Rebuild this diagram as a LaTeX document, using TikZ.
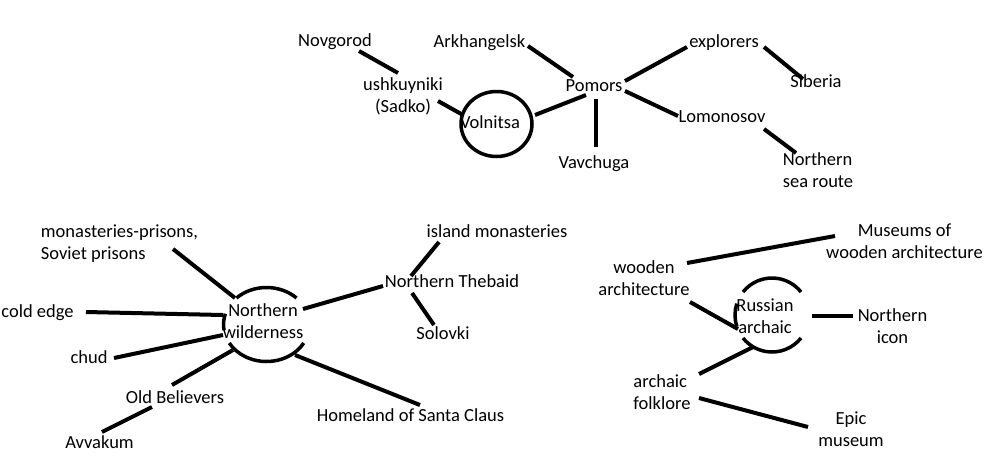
\documentclass[tikz,border=0pt]{standalone}
\usepackage{fontspec}
\setmainfont{Carlito}
\newcommand\lstrut{\rule[-5.2pt]{0pt}{22pt}}
\begin{document}
\begin{tikzpicture}[x=1pt,y=-1pt,
  lbl/.style={inner sep=0pt, font=\fontsize{18.5}{22}\selectfont, align=center},
  lbll/.style={lbl, align=left},
  conn/.style={line width=4pt},
  ring/.style={line width=3.5pt}]
\useasboundingbox[fill=white] (0,0) rectangle (1003,456);

% ---------- top cluster ----------
\node[lbl] (novgorod) at (335,41) {\lstrut Novgorod};
\node[lbl] (arkh) at (479.5,42) {\lstrut Arkhangelsk};
\node[lbl] (ushk) at (403,96) {\lstrut ushkuyniki\\\lstrut (Sadko)};
\draw[ring] (496.5,124) ellipse [x radius=35.5, y radius=32.5];
\node[lbl] (voln) at (490,123) {\lstrut Volnitsa};
\node[lbl] (pomors) at (594,86) {\lstrut Pomors};
\node[lbl] (vavch) at (594,163) {\lstrut Vavchuga};
\node[lbl] (expl) at (724,42) {\lstrut explorers};
\node[lbl] (siberia) at (816,82) {\lstrut Siberia};
\node[lbl] (lomon) at (722,117) {\lstrut Lomonosov};
\node[lbll] (nsr) at (818,171) {\lstrut Northern\\\lstrut sea route};

\draw[conn] ([shift={(24,10)}]novgorod.center) -- ([shift={(-5,-23)}]ushk.center);
\draw[conn] ([shift={(35,5)}]ushk.center) -- ([shift={(-27,-8)}]voln.center);
\draw[conn] ([shift={(48.5,4)}]arkh.center) -- ([shift={(-21,-9)}]pomors.center);
\draw[conn] ([shift={(45,-8)}]voln.center) -- ([shift={(-8,9)}]pomors.center);
\draw[conn] ([shift={(2,13)}]pomors.center) -- ([shift={(2,-16)}]vavch.center);
\draw[conn] ([shift={(31,-5)}]pomors.center) -- ([shift={(-37,5)}]expl.center);
\draw[conn] ([shift={(31,5)}]pomors.center) -- ([shift={(-44,-1)}]lomon.center);
\draw[conn] ([shift={(40,5)}]expl.center) -- ([shift={(-13,-3)}]siberia.center);
\draw[conn] ([shift={(42,12)}]lomon.center) -- ([shift={(-22,-18)}]nsr.center);

% ---------- bottom-left cluster ----------
\coordinate (nwc) at (266.5,324.5);
\draw[ring] ([shift={(-134.3:43 and 37)}]nwc) arc[start angle=-134.3, end angle=-45.7, x radius=43, y radius=37];
\draw[ring] ([shift={(30:43 and 37)}]nwc) arc[start angle=30, end angle=150, x radius=43, y radius=37];
\draw[ring] ([shift={(171:43 and 37)}]nwc) arc[start angle=171, end angle=197, x radius=43, y radius=37];
\node[lbl] (nwild) at (263,322) {\lstrut Northern\\\lstrut wilderness};
\node[lbll] (monpr) at (119.5,243) {\lstrut monasteries-prisons,\\\lstrut Soviet prisons};
\node[lbl] (cold) at (37.5,312) {\lstrut cold edge};
\node[lbl] (chud) at (89,358) {\lstrut chud};
\node[lbl] (oldb) at (175,398) {\lstrut Old Believers};
\node[lbl] (avv) at (99.5,443) {\lstrut Avvakum};
\node[lbl] (thebaid) at (452,282) {\lstrut Northern Thebaid};
\node[lbl] (island) at (497,232) {\lstrut island monasteries};
\node[lbl] (solovki) at (443,334) {\lstrut Solovki};
\node[lbl] (santa) at (410.5,416) {\lstrut Homeland of Santa Claus};

\draw[conn] ([shift={(53.5,6)}]monpr.center) -- ([shift={(-28,-24)}]nwild.center);
\draw[conn] ([shift={(48.5,0)}]cold.center) -- ([shift={(-40,-7)}]nwild.center);
\draw[conn] ([shift={(25,0)}]chud.center) -- ([shift={(-40,13)}]nwild.center);
\draw[conn] ([shift={(-3,-13)}]oldb.center) -- ([shift={(-30,28)}]nwild.center);
\draw[conn] ([shift={(2.5,-11)}]avv.center) -- ([shift={(-23,9)}]oldb.center);
\draw[conn] ([shift={(32,33)}]nwild.center) -- ([shift={(9.5,-11)}]santa.center);
\draw[conn] ([shift={(40,-13)}]nwild.center) -- ([shift={(-69,4)}]thebaid.center);
\draw[conn] ([shift={(-41,-6)}]thebaid.center) -- ([shift={(-58,10)}]island.center);
\draw[conn] ([shift={(-40,11)}]thebaid.center) -- ([shift={(-9,-9)}]solovki.center);

% ---------- bottom-right cluster ----------
\coordinate (rac) at (772,315);
\draw[ring] ([shift={(-141.6:37)}]rac) arc[start angle=-141.6, end angle=-38.4, radius=37];
\draw[ring] ([shift={(38.4:37)}]rac) arc[start angle=38.4, end angle=141.6, radius=37];
\draw[ring] ([shift={(162:37)}]rac) arc[start angle=162, end angle=198, radius=37];
\node[lbl] (rarch) at (765,316.5) {\lstrut Russian\\\lstrut archaic};
\node[lbl] (museums) at (904.5,242) {\lstrut Museums of\\\lstrut wooden architecture};
\node[lbl] (wooden) at (644,278.5) {\lstrut wooden\\\lstrut architecture};
\node[lbl] (icon) at (892.5,327) {\lstrut Northern\\\lstrut icon};
\node[lbll] (folk) at (662,392.5) {\lstrut archaic\\\lstrut folklore};
\node[lbl] (epic) at (851,429.5) {\lstrut Epic\\\lstrut museum};

\draw[conn] ([shift={(43,-15.5)}]wooden.center) -- ([shift={(-69.5,-6)}]museums.center);
\draw[conn] ([shift={(46,23.5)}]wooden.center) -- ([shift={(-27,12.5)}]rarch.center);
\draw[conn] ([shift={(47,-0.5)}]rarch.center) -- ([shift={(-39.5,-11)}]icon.center);
\draw[conn] ([shift={(-12,30.5)}]rarch.center) -- ([shift={(37,-18.5)}]folk.center);
\draw[conn] ([shift={(37,5.5)}]folk.center) -- ([shift={(-43,-2.5)}]epic.center);
\end{tikzpicture}
\end{document}
